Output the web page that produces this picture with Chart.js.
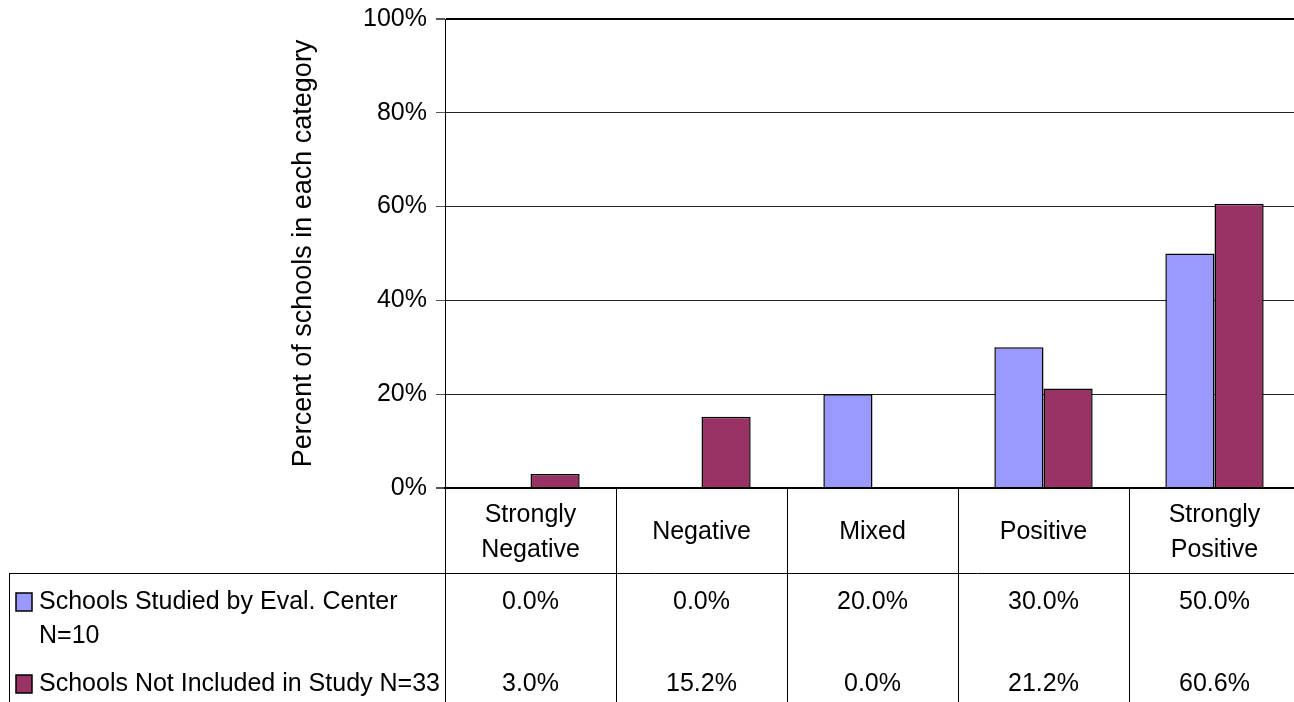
<!DOCTYPE html>
<html>
<head>
<meta charset="utf-8">
<script src="https://cdn.jsdelivr.net/npm/chart.js@4/dist/chart.umd.min.js"></script>
<style>
  html, body { margin: 0; padding: 0; background: #fff; overflow: hidden; }
  #wrap { position: relative; width: 1300px; height: 702px; }
</style>
</head>
<body>
<div id="wrap"><canvas id="c"></canvas></div>
<script>
const categories = [['Strongly', 'Negative'], 'Negative', 'Mixed', 'Positive', ['Strongly', 'Positive']];
const seriesNames = [['Schools Studied by Eval. Center', 'N=10'], ['Schools Not Included in Study N=33']];
const studiedValues = [0.0, 0.0, 20.0, 30.0, 50.0];
const notIncludedValues = [3.0, 15.2, 0.0, 21.2, 60.6];
const seriesColors = ['#9999FF', '#993366'];
const yTickValues = [0, 20, 40, 60, 80, 100];
const yTitle = 'Percent of schools in each category';

const FONT = "'Liberation Sans', Arial, sans-serif";

const tablePlugin = {
  id: 'dataTable',
  afterDraw(chart) {
    const ctx = chart.ctx;
    const x = chart.scales.x;
    const area = chart.chartArea;
    const n = categories.length;
    const catW = (area.right - area.left) / n;
    const top = area.bottom;
    const headerBottom = 573;
    const bottom = 702;
    ctx.save();
    ctx.strokeStyle = '#000';
    ctx.lineWidth = 1;
    for (let i = 0; i <= n; i++) {
      const px = Math.round(x.getPixelForValue(i) - catW / 2) + 0.5;
      ctx.beginPath();
      ctx.moveTo(px, top);
      ctx.lineTo(px, bottom);
      ctx.stroke();
    }
    ctx.beginPath();
    ctx.moveTo(9.5, headerBottom + 0.5);
    ctx.lineTo(area.right, headerBottom + 0.5);
    ctx.stroke();
    ctx.beginPath();
    ctx.moveTo(9.5, headerBottom);
    ctx.lineTo(9.5, bottom);
    ctx.stroke();

    ctx.font = '25px ' + FONT;
    ctx.fillStyle = '#000';
    ctx.textBaseline = 'middle';
    const rows = [
      { y: 602, values: studiedValues, color: seriesColors[0], name: seriesNames[0] },
      { y: 684, values: notIncludedValues, color: seriesColors[1], name: seriesNames[1] }
    ];
    rows.forEach(r => {
      ctx.fillStyle = r.color;
      ctx.fillRect(16, r.y - 9, 16, 18);
      ctx.strokeStyle = '#000';
      ctx.lineWidth = 1.5;
      ctx.strokeRect(16, r.y - 9, 16, 18);
      ctx.fillStyle = '#000';
      ctx.textAlign = 'left';
      r.name.forEach((line, li) => ctx.fillText(line, 39, r.y + li * 34));
      ctx.textAlign = 'center';
      r.values.forEach((v, i) => {
        ctx.fillText(v.toFixed(1) + '%', x.getPixelForValue(i), r.y);
      });
    });
    ctx.restore();
  }
};

new Chart(document.getElementById('c'), {
  type: 'bar',
  data: {
    labels: categories,
    datasets: [
      { label: seriesNames[0].join(' '), data: studiedValues, backgroundColor: seriesColors[0], borderColor: '#000', borderWidth: 1.5, borderSkipped: 'bottom' },
      { label: seriesNames[1].join(' '), data: notIncludedValues, backgroundColor: seriesColors[1], borderColor: '#000', borderWidth: 1.5, borderSkipped: 'bottom' }
    ]
  },
  options: {
    responsive: true,
    maintainAspectRatio: false,
    animation: false,
    events: [],
    layout: { padding: { top: 19, right: 0, bottom: 0, left: 0 } },
    datasets: { bar: { categoryPercentage: 0.575, barPercentage: 1.0 } },
    plugins: { legend: { display: false }, tooltip: { enabled: false } },
    scales: {
      x: {
        offset: true,
        grid: { display: false, drawTicks: false },
        border: { display: true, color: '#000', width: 2 },
        ticks: { color: '#000', font: { family: FONT, size: 25, lineHeight: 1.4 }, padding: 27, maxRotation: 0, autoSkip: false, crossAlign: 'center' },
        afterFit(scale) { scale.height = 214; scale.paddingLeft = 0; scale.paddingRight = 0; }
      },
      y: {
        min: 0, max: 100,
        afterBuildTicks(scale) { scale.ticks = yTickValues.map(v => ({ value: v })); },
        grid: {
          color: ctx => (ctx.tick && (ctx.tick.value === 0 || ctx.tick.value === 100)) ? '#000' : '#222',
          lineWidth: ctx => (ctx.tick && (ctx.tick.value === 0 || ctx.tick.value === 100)) ? 2 : 1,
          tickLength: 9,
          tickColor: '#555'
        },
        border: { display: true, color: '#000', width: 1 },
        ticks: { color: '#000', font: { family: FONT, size: 25 }, padding: 9, callback: v => v + '%' },
        title: { display: true, text: yTitle, color: '#000', font: { family: FONT, size: 27, lineHeight: 1.2 }, padding: { top: 287, bottom: 0 } },
        afterFit(scale) { scale.width = 445; scale.paddingTop = 0; scale.paddingBottom = 0; }
      }
    }
  },
  plugins: [tablePlugin]
});
</script>
</body>
</html>
